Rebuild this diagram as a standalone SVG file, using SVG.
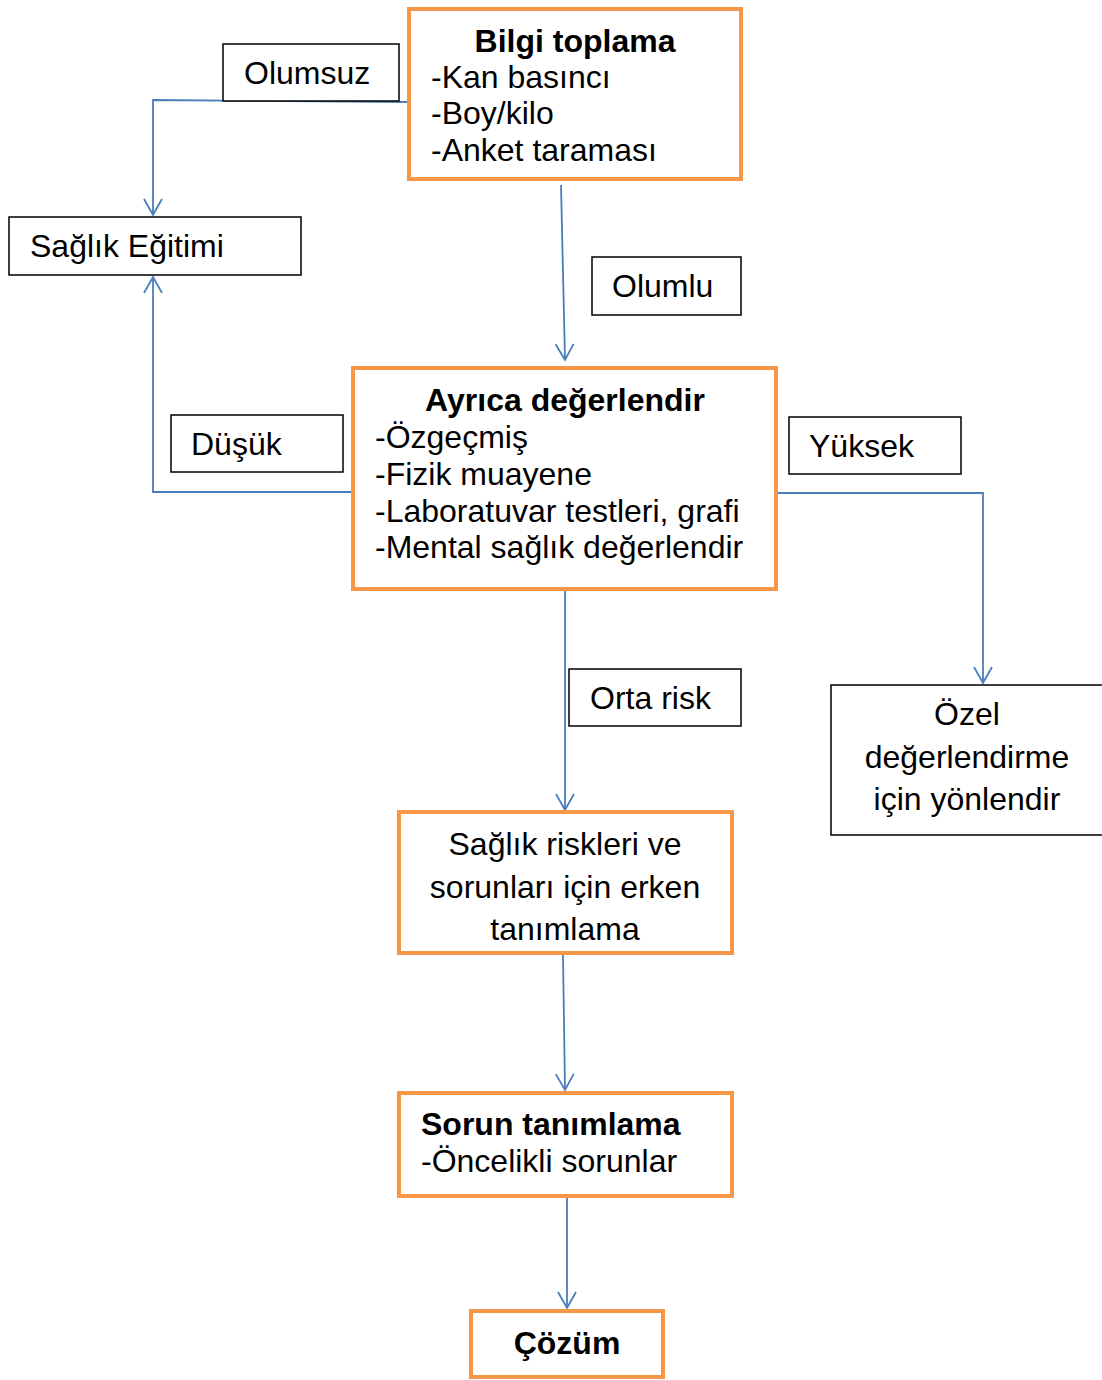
<svg xmlns="http://www.w3.org/2000/svg" width="1102" height="1380" viewBox="0 0 1102 1380">
<style>
text{font-family:"Liberation Sans",Arial,sans-serif;font-size:32px;fill:#000}
.b{font-weight:bold}
.m{text-anchor:middle}
.main{fill:#fff;stroke:#F79646;stroke-width:4}
.lab{fill:#fff;stroke:#000;stroke-width:1.5}
.c{fill:none;stroke:#4A7EBB;stroke-width:1.8}
</style>
<defs>
<marker id="ah" viewBox="0 0 20 20" refX="18" refY="10" markerWidth="20" markerHeight="20" markerUnits="userSpaceOnUse" orient="auto">
<path d="M2,1 L18,10 L2,19" fill="none" stroke="#4A7EBB" stroke-width="1.8"/>
</marker>
</defs>
<rect width="1102" height="1380" fill="#fff"/>
<g id="connectors">
<path class="c" d="M409,102 L153,100 L153,215" marker-end="url(#ah)"/>
<path class="c" d="M561,185 L565,360" marker-end="url(#ah)"/>
<path class="c" d="M353,492 L153,492 L153,277" marker-end="url(#ah)"/>
<path class="c" d="M776,493 L983,493 L983,683" marker-end="url(#ah)"/>
<path class="c" d="M565,589 L565,810" marker-end="url(#ah)"/>
<path class="c" d="M563,955 L565,1090" marker-end="url(#ah)"/>
<path class="c" d="M567,1196 L567,1308" marker-end="url(#ah)"/>
</g>
<g id="bilgi">
<rect class="main" x="409" y="9" width="332" height="170"/>
<text class="b m" x="575" y="52">Bilgi toplama</text>
<text x="431" y="88">-Kan basıncı</text>
<text x="431" y="124">-Boy/kilo</text>
<text x="431" y="161">-Anket taraması</text>
</g>
<g id="olumsuz">
<rect class="lab" x="223" y="44" width="176" height="57"/>
<text x="244" y="84">Olumsuz</text>
</g>
<g id="saglik-egitimi">
<rect class="lab" x="9" y="217" width="292" height="58"/>
<text x="30" y="257">Sağlık Eğitimi</text>
</g>
<g id="olumlu">
<rect class="lab" x="592" y="257" width="149" height="58"/>
<text x="612" y="297">Olumlu</text>
</g>
<g id="ayrica">
<rect class="main" x="353" y="368" width="423" height="221"/>
<text class="b m" x="565" y="411">Ayrıca değerlendir</text>
<text x="375" y="448">-Özgeçmiş</text>
<text x="375" y="485">-Fizik muayene</text>
<text x="375" y="522">-Laboratuvar testleri, grafi</text>
<text x="375" y="558">-Mental sağlık değerlendir</text>
</g>
<g id="dusuk">
<rect class="lab" x="171" y="415" width="172" height="57"/>
<text x="191" y="455">Düşük</text>
</g>
<g id="yuksek">
<rect class="lab" x="789" y="417" width="172" height="57"/>
<text x="809" y="457">Yüksek</text>
</g>
<g id="ozel">
<rect class="lab" x="831" y="685" width="275" height="150"/>
<text class="m" x="967" y="725">Özel</text>
<text class="m" x="967" y="768">değerlendirme</text>
<text class="m" x="967" y="810">için yönlendir</text>
</g>
<g id="orta-risk">
<rect class="lab" x="569" y="669" width="172" height="57"/>
<text x="590" y="709">Orta risk</text>
</g>
<g id="erken">
<rect class="main" x="399" y="812" width="333" height="141"/>
<text class="m" x="565" y="855">Sağlık riskleri ve</text>
<text class="m" x="565" y="898">sorunları için erken</text>
<text class="m" x="565" y="940">tanımlama</text>
</g>
<g id="sorun">
<rect class="main" x="399" y="1093" width="333" height="103"/>
<text class="b" x="421" y="1135">Sorun tanımlama</text>
<text x="421" y="1172">-Öncelikli sorunlar</text>
</g>
<g id="cozum">
<rect class="main" x="471" y="1311" width="192" height="66"/>
<text class="b m" x="567" y="1354">Çözüm</text>
</g>
</svg>
